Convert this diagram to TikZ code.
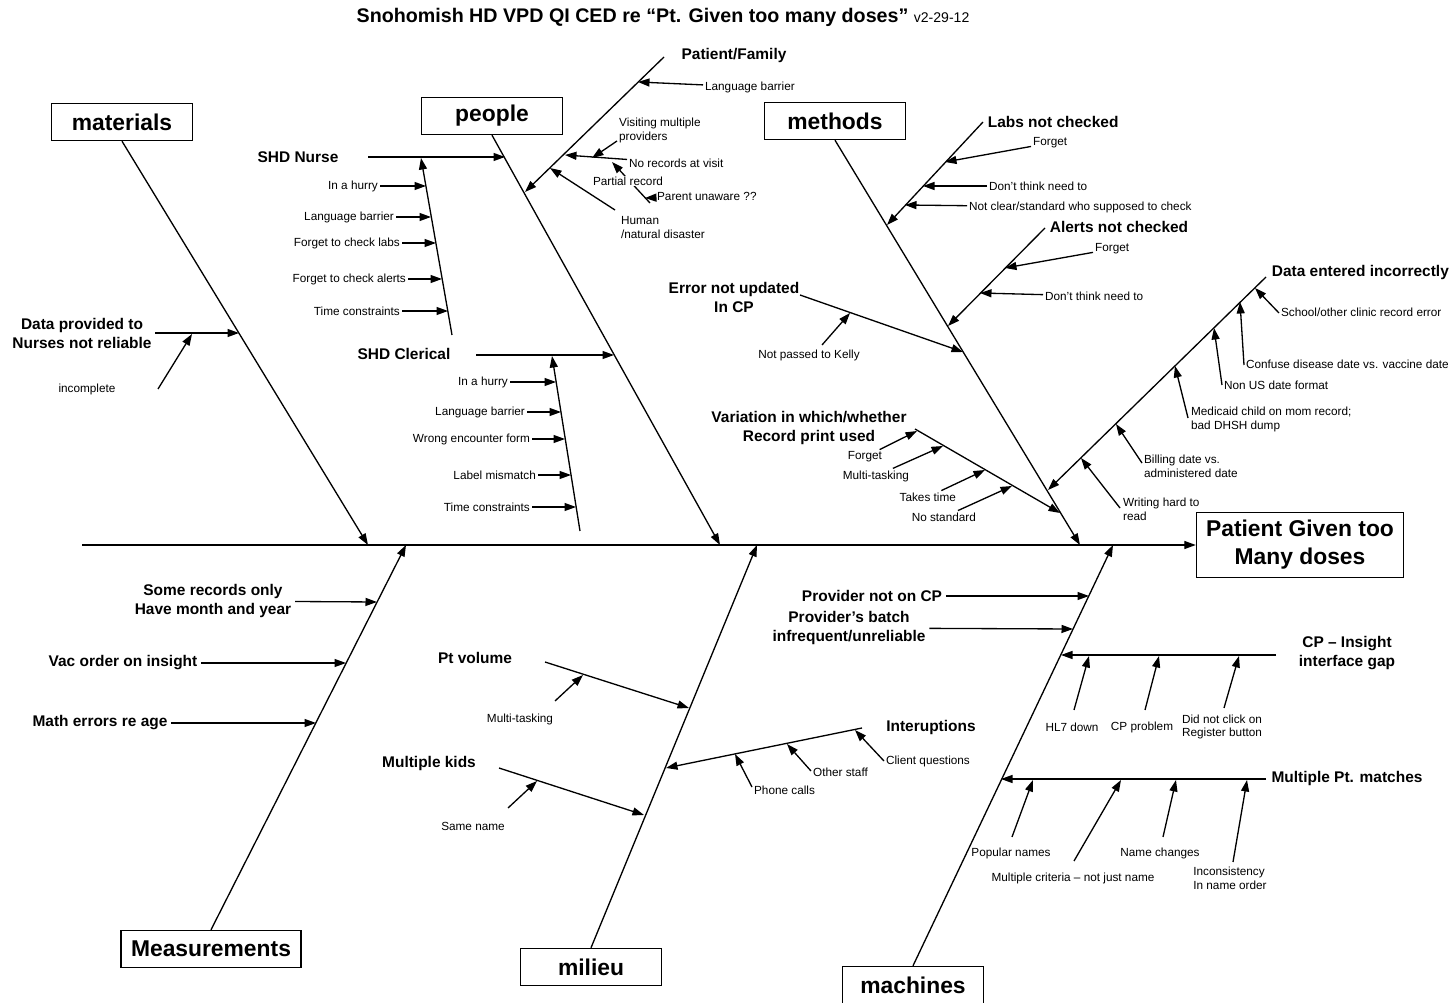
\documentclass[tikz,border=0pt]{standalone}
\usepackage{fontspec}
\setmainfont{Liberation Sans}
\usetikzlibrary{arrows.meta, calc}
\tikzset{
    my-cat-box/.style={
        draw, line width=0.8pt, minimum width=2.82cm, minimum height=0.74cm, inner sep=0pt,
        font=\fontsize{13}{15}\selectfont\bfseries
    },
    my-effect-box/.style={
        draw, line width=0.8pt, minimum width=4.14cm, minimum height=1.3cm, inner sep=0pt,
        align=center, font=\fontsize{13}{16}\selectfont\bfseries
    },
    my-cause/.style={
        align=center, inner sep=2pt, font=\fontsize{8.8}{10.8}\selectfont\bfseries
    },
    my-sub/.style={
        align=left, inner sep=1pt, font=\fontsize{6.7}{7.9}\selectfont
    },
    my-bone/.style={
        line width=0.75pt
    },
    my-arrow/.style={
        line width=0.75pt, -{Triangle[length=2.3mm, width=1.6mm]}
    },
}
\begin{document}
\begin{tikzpicture}[x=0.02cm, y=-0.02cm]
        \useasboundingbox (0,0) rectangle (1455,1003);

        % TITLE -----------------------------------------------------------------------------------
        \node[inner sep=0pt] (TITLE) at (663,17)
            {\fontsize{11.2}{13}\selectfont\bfseries Snohomish HD VPD QI CED re “Pt. Given too many doses” {\fontsize{8}{9}\selectfont\mdseries v2-29-12}};

        % SPINE AND EFFECT ------------------------------------------------------------------------
        \coordinate[]        (SPINESTART) at (82,545);
        \node[my-effect-box] (EFFECT)     at (1300,545) {Patient Given too\\Many doses};
        \draw[my-arrow] (SPINESTART) -- (EFFECT.west);

        % CATEGORY BOXES
        \node[my-cat-box] (MATERIALS)    at (122,122) {materials};
        \node[my-cat-box] (PEOPLE)       at (492,116) {people};
        \node[my-cat-box] (METHODS)      at (835,121) {methods};
        \node[my-cat-box, minimum width=3.6cm] (MEASUREMENTS) at (211,949) {Measurements};
        \node[my-cat-box] (MILIEU)       at (591,967) {milieu};
        \node[my-cat-box] (MACHINES)     at (913,985) {machines};

        % MAIN BONES
        \coordinate[] (MATERIALSEND)    at (368,545);
        \coordinate[] (PEOPLEEND)       at (720,545);
        \coordinate[] (METHODSEND)      at (1080,545);
        \coordinate[] (MEASUREMENTSEND) at (406,545);
        \coordinate[] (MILIEUEND)       at (757,545);
        \coordinate[] (MACHINESEND)     at (1113,545);
        \draw[my-arrow] (MATERIALS.south)    -- (MATERIALSEND);
        \draw[my-arrow] (PEOPLE.south)       -- (PEOPLEEND);
        \draw[my-arrow] (METHODS.south)      -- (METHODSEND);
        \draw[my-arrow] (MEASUREMENTS.north) -- (MEASUREMENTSEND);
        \draw[my-arrow] (MILIEU.north)       -- (MILIEUEND);
        \draw[my-arrow] (MACHINES.north)     -- (MACHINESEND);

        % MATERIALS -------------------------------------------------------------------------------
        \node[my-cause] (DATAPROV)   at (82,333) {Data provided to\\Nurses not reliable};
        \coordinate[]   (DATAPROVEND) at (239,333);
        \draw[my-arrow] (DATAPROV) -- (DATAPROVEND);

        \node[my-sub]   (INCOMPLETE)      at (87,389)  {incomplete};
        \coordinate[]   (INCOMPLETESTART) at (158,389);
        \coordinate[]   (INCOMPLETEEND)   at (192,334);
        \draw[my-arrow] (INCOMPLETESTART) -- (INCOMPLETEEND);

        % PEOPLE - SHD NURSE ----------------------------------------------------------------------
        \node[my-cause] (SHDNURSE)      at (298,157) {SHD Nurse};
        \coordinate[]   (SHDNURSESTART) at (368,157);
        \coordinate[]   (SHDNURSEEND)   at (505,157);
        \draw[my-arrow] (SHDNURSESTART) -- (SHDNURSEEND);
        \coordinate[]   (NURSEBONEBOT)  at (452,335);
        \coordinate[]   (NURSEBONETOP)  at (421,158);
        \draw[my-arrow] (NURSEBONEBOT) -- (NURSEBONETOP);

        \node[my-sub, anchor=east] (NURSE1) at (380,186) {In a hurry};
        \node[my-sub, anchor=east] (NURSE2) at (396,217) {Language barrier};
        \node[my-sub, anchor=east] (NURSE3) at (402,243) {Forget to check labs};
        \node[my-sub, anchor=east] (NURSE4) at (408,279) {Forget to check alerts};
        \node[my-sub, anchor=east] (NURSE5) at (402,311) {Time constraints};
        \coordinate[] (NURSE1END) at (426,186);
        \coordinate[] (NURSE2END) at (431,217);
        \coordinate[] (NURSE3END) at (436,243);
        \coordinate[] (NURSE4END) at (442,279);
        \coordinate[] (NURSE5END) at (448,311);
        \draw[my-arrow] (NURSE1) -- (NURSE1END);
        \draw[my-arrow] (NURSE2) -- (NURSE2END);
        \draw[my-arrow] (NURSE3) -- (NURSE3END);
        \draw[my-arrow] (NURSE4) -- (NURSE4END);
        \draw[my-arrow] (NURSE5) -- (NURSE5END);

        % PEOPLE - SHD CLERICAL -------------------------------------------------------------------
        \node[my-cause] (SHDCLERICAL)      at (404,354) {SHD Clerical};
        \coordinate[]   (SHDCLERICALSTART) at (476,355);
        \coordinate[]   (SHDCLERICALEND)   at (614,355);
        \draw[my-arrow] (SHDCLERICALSTART) -- (SHDCLERICALEND);
        \coordinate[]   (CLERICALBONEBOT)  at (580,531);
        \coordinate[]   (CLERICALBONETOP)  at (552,356);
        \draw[my-arrow] (CLERICALBONEBOT) -- (CLERICALBONETOP);

        \node[my-sub, anchor=east] (CLERICAL1) at (510,382) {In a hurry};
        \node[my-sub, anchor=east] (CLERICAL2) at (527,412) {Language barrier};
        \node[my-sub, anchor=east] (CLERICAL3) at (532,439) {Wrong encounter form};
        \node[my-sub, anchor=east] (CLERICAL4) at (538,475) {Label mismatch};
        \node[my-sub, anchor=east] (CLERICAL5) at (532,507) {Time constraints};
        \coordinate[] (CLERICAL1END) at (556,382);
        \coordinate[] (CLERICAL2END) at (561,412);
        \coordinate[] (CLERICAL3END) at (565,439);
        \coordinate[] (CLERICAL4END) at (571,475);
        \coordinate[] (CLERICAL5END) at (576,507);
        \draw[my-arrow] (CLERICAL1) -- (CLERICAL1END);
        \draw[my-arrow] (CLERICAL2) -- (CLERICAL2END);
        \draw[my-arrow] (CLERICAL3) -- (CLERICAL3END);
        \draw[my-arrow] (CLERICAL4) -- (CLERICAL4END);
        \draw[my-arrow] (CLERICAL5) -- (CLERICAL5END);

        % PEOPLE - PATIENT/FAMILY -----------------------------------------------------------------
        \node[my-cause] (PATFAM)    at (734,56) {Patient/Family};
        \coordinate[]   (PATFAMTOP) at (664,57);
        \coordinate[]   (PATFAMEND) at (525,192);
        \draw[my-arrow] (PATFAMTOP) -- (PATFAMEND);

        \node[my-sub, anchor=west] (PFLANG)    at (703,87) {Language barrier};
        \coordinate[]              (PFLANGEND) at (638,82);
        \draw[my-arrow] (PFLANG) -- (PFLANGEND);

        \node[my-sub, anchor=north west] (VISITING)      at (617,116) {Visiting multiple\\providers};
        \coordinate[]                    (VISITINGSTART) at (617,141);
        \coordinate[]                    (VISITINGEND)   at (592,158);
        \draw[my-arrow] (VISITINGSTART) -- (VISITINGEND);

        \node[my-sub, anchor=west] (NORECORDS)    at (627,163) {No records at visit};
        \coordinate[]              (NORECORDSEND) at (565,155);
        \draw[my-arrow] (NORECORDS) -- (NORECORDSEND);

        \coordinate[]   (PARTIALSTART) at (650,203);
        \coordinate[]   (PARTIALEND)   at (612,162);
        \draw[my-arrow] (PARTIALSTART) -- (PARTIALEND);
        \node[my-sub, fill=white, inner sep=0.5pt] (PARTIAL) at (628,181) {Partial record};

        \node[my-sub, anchor=west] (PARENT)    at (655,196) {Parent unaware ??};
        \coordinate[]              (PARENTEND) at (645,198);
        \draw[my-arrow] (PARENT) -- (PARENTEND);

        \node[my-sub, anchor=north west] (HUMAN)      at (619,214) {Human\\/natural disaster};
        \coordinate[]                    (HUMANSTART) at (615,210);
        \coordinate[]                    (HUMANEND)   at (550,168);
        \draw[my-arrow] (HUMANSTART) -- (HUMANEND);

        % METHODS - LABS NOT CHECKED --------------------------------------------------------------
        \node[my-cause, anchor=west] (LABS)      at (984,122) {Labs not checked};
        \coordinate[]                (LABSTOP)   at (983,122);
        \coordinate[]                (LABSEND)   at (887,225);
        \draw[my-arrow] (LABSTOP) -- (LABSEND);

        \node[my-sub, anchor=west] (LABS1) at (1031,143) {Forget};
        \node[my-sub, anchor=west] (LABS2) at (987,186)  {Don't think need to};
        \node[my-sub, anchor=west] (LABS3) at (967,207)  {Not clear/standard who supposed to check};
        \coordinate[] (LABS1END) at (945,162);
        \coordinate[] (LABS2END) at (923,186);
        \coordinate[] (LABS3END) at (905,205);
        \draw[my-arrow] (LABS1) -- (LABS1END);
        \draw[my-arrow] (LABS2) -- (LABS2END);
        \draw[my-arrow] (LABS3) -- (LABS3END);

        % METHODS - ALERTS NOT CHECKED ------------------------------------------------------------
        \node[my-cause, anchor=west] (ALERTS)    at (1046,227) {Alerts not checked};
        \coordinate[]                (ALERTSTOP) at (1045,228);
        \coordinate[]                (ALERTSEND) at (948,326);
        \draw[my-arrow] (ALERTSTOP) -- (ALERTSEND);

        \node[my-sub, anchor=west] (ALERTS1) at (1093,249) {Forget};
        \node[my-sub, anchor=west] (ALERTS2) at (1043,296) {Don't think need to};
        \coordinate[] (ALERTS1END) at (1005,268);
        \coordinate[] (ALERTS2END) at (980,293);
        \draw[my-arrow] (ALERTS1) -- (ALERTS1END);
        \draw[my-arrow] (ALERTS2) -- (ALERTS2END);

        % METHODS - ERROR NOT UPDATED -------------------------------------------------------------
        \node[my-cause] (ERROR)      at (734,297) {Error not updated\\In CP};
        \coordinate[]   (ERRORSTART) at (800,295);
        \coordinate[]   (ERROREND)   at (963,352);
        \draw[my-arrow] (ERRORSTART) -- (ERROREND);

        \node[my-sub]   (KELLY)      at (809,355) {Not passed to Kelly};
        \coordinate[]   (KELLYSTART) at (822,345);
        \coordinate[]   (KELLYEND)   at (850,313);
        \draw[my-arrow] (KELLYSTART) -- (KELLYEND);

        % METHODS - VARIATION IN RECORD PRINT -----------------------------------------------------
        \node[my-cause] (VARIATION)      at (809,428) {Variation in which/whether\\Record print used};
        \coordinate[]   (VARIATIONSTART) at (915,429);
        \coordinate[]   (VARIATIONEND)   at (1060,513);
        \draw[my-arrow] (VARIATIONSTART) -- (VARIATIONEND);

        \node[my-sub, anchor=east] (VARIATION1) at (884,457) {Forget};
        \node[my-sub, anchor=east] (VARIATION2) at (911,476) {Multi-tasking};
        \node[my-sub, anchor=east] (VARIATION3) at (958,497) {Takes time};
        \node[my-sub, anchor=east] (VARIATION4) at (978,517) {No standard};
        \coordinate[] (VARIATION1END) at (917,431);
        \coordinate[] (VARIATION2END) at (943,446);
        \coordinate[] (VARIATION3END) at (985,470);
        \coordinate[] (VARIATION4END) at (1012,486);
        \draw[my-arrow] (VARIATION1) -- (VARIATION1END);
        \draw[my-arrow] (VARIATION2) -- (VARIATION2END);
        \draw[my-arrow] (VARIATION3) -- (VARIATION3END);
        \draw[my-arrow] (VARIATION4) -- (VARIATION4END);

        % METHODS - DATA ENTERED INCORRECTLY ------------------------------------------------------
        \node[my-cause, anchor=west] (DATAENTERED)    at (1268,273) {Data entered incorrectly};
        \coordinate[]                (DATAENTEREDTOP) at (1266,277);
        \coordinate[]                (DATAENTEREDEND) at (1048,490);
        \draw[my-arrow] (DATAENTEREDTOP) -- (DATAENTEREDEND);

        \node[my-sub, anchor=west]       (DATA1) at (1279,312) {School/other clinic record error};
        \node[my-sub, anchor=west]       (DATA2) at (1244,364) {Confuse disease date vs. vaccine date};
        \node[my-sub, anchor=west]       (DATA3) at (1222,385) {Non US date format};
        \node[my-sub, anchor=north west] (DATA4) at (1189,405) {Medicaid child on mom record;\\ bad DHSH dump};
        \node[my-sub, anchor=north west] (DATA5) at (1142,453) {Billing date vs.\\ administered date};
        \node[my-sub, anchor=north west] (DATA6) at (1121,496) {Writing hard to\\read};
        \coordinate[] (DATA1START) at (1279,313);
        \coordinate[] (DATA2START) at (1244,365);
        \coordinate[] (DATA3START) at (1222,385);
        \coordinate[] (DATA4START) at (1188,418);
        \coordinate[] (DATA5START) at (1142,463);
        \coordinate[] (DATA6START) at (1120,508);
        \coordinate[] (DATA1END) at (1255,288);
        \coordinate[] (DATA2END) at (1240,302);
        \coordinate[] (DATA3END) at (1214,328);
        \coordinate[] (DATA4END) at (1175,366);
        \coordinate[] (DATA5END) at (1116,424);
        \coordinate[] (DATA6END) at (1081,458);
        \draw[my-arrow] (DATA1START) -- (DATA1END);
        \draw[my-arrow] (DATA2START) -- (DATA2END);
        \draw[my-arrow] (DATA3START) -- (DATA3END);
        \draw[my-arrow] (DATA4START) -- (DATA4END);
        \draw[my-arrow] (DATA5START) -- (DATA5END);
        \draw[my-arrow] (DATA6START) -- (DATA6END);

        % MEASUREMENTS ----------------------------------------------------------------------------
        \node[my-cause] (SOMERECORDS) at (213,601) {Some records only\\Have month and year};
        \node[my-cause] (VACORDER)    at (123,663) {Vac order on insight};
        \node[my-cause] (MATHERRORS)  at (100,723) {Math errors re age};
        \coordinate[] (SOMERECORDSEND) at (377,602);
        \coordinate[] (VACORDEREND)    at (346,663);
        \coordinate[] (MATHERRORSEND)  at (316,723);
        \draw[my-arrow] (SOMERECORDS) -- (SOMERECORDSEND);
        \draw[my-arrow] (VACORDER)    -- (VACORDEREND);
        \draw[my-arrow] (MATHERRORS)  -- (MATHERRORSEND);

        % MILIEU ----------------------------------------------------------------------------------
        \node[my-cause] (PTVOLUME)      at (475,658) {Pt volume};
        \coordinate[]   (PTVOLUMESTART) at (545,662);
        \coordinate[]   (PTVOLUMEEND)   at (689,708);
        \draw[my-arrow] (PTVOLUMESTART) -- (PTVOLUMEEND);
        \node[my-sub]   (MULTITASK)      at (520,719) {Multi-tasking};
        \coordinate[]   (MULTITASKSTART) at (555,701);
        \coordinate[]   (MULTITASKEND)   at (583,675);
        \draw[my-arrow] (MULTITASKSTART) -- (MULTITASKEND);

        \node[my-cause] (MULTIKIDS)      at (429,764) {Multiple kids};
        \coordinate[]   (MULTIKIDSSTART) at (499,768);
        \coordinate[]   (MULTIKIDSEND)   at (644,815);
        \draw[my-arrow] (MULTIKIDSSTART) -- (MULTIKIDSEND);
        \node[my-sub]   (SAMENAME)      at (473,826) {Same name};
        \coordinate[]   (SAMENAMESTART) at (508,808);
        \coordinate[]   (SAMENAMEEND)   at (537,781);
        \draw[my-arrow] (SAMENAMESTART) -- (SAMENAMEEND);

        \node[my-cause] (INTERUPT)      at (931,728) {Interuptions};
        \coordinate[]   (INTERUPTSTART) at (862,728);
        \coordinate[]   (INTERUPTEND)   at (666,768);
        \draw[my-arrow] (INTERUPTSTART) -- (INTERUPTEND);
        \node[my-sub, anchor=west] (INTERUPT1) at (884,761) {Client questions};
        \node[my-sub, anchor=west] (INTERUPT2) at (811,772) {Other staff};
        \node[my-sub, anchor=west] (INTERUPT3) at (752,790) {Phone calls};
        \coordinate[] (INTERUPT1START) at (884,761);
        \coordinate[] (INTERUPT2START) at (811,771);
        \coordinate[] (INTERUPT3START) at (752,787);
        \coordinate[] (INTERUPT1END) at (855,730);
        \coordinate[] (INTERUPT2END) at (787,744);
        \coordinate[] (INTERUPT3END) at (735,754);
        \draw[my-arrow] (INTERUPT1START) -- (INTERUPT1END);
        \draw[my-arrow] (INTERUPT2START) -- (INTERUPT2END);
        \draw[my-arrow] (INTERUPT3START) -- (INTERUPT3END);

        % MACHINES --------------------------------------------------------------------------------
        \node[my-cause] (NOTONCP)    at (872,596) {Provider not on CP};
        \node[my-cause] (BATCH)      at (849,628) {Provider's batch\\infrequent/unreliable};
        \coordinate[]   (NOTONCPEND) at (1089,596);
        \coordinate[]   (BATCHEND)   at (1073,629);
        \draw[my-arrow] (NOTONCP) -- (NOTONCPEND);
        \draw[my-arrow] (BATCH)   -- (BATCHEND);

        % CP - INSIGHT INTERFACE GAP
        \node[my-cause] (CPGAP)      at (1347,653) {CP -- Insight\\interface gap};
        \coordinate[]   (CPGAPSTART) at (1276,655);
        \coordinate[]   (CPGAPEND)   at (1061,655);
        \draw[my-arrow] (CPGAPSTART) -- (CPGAPEND);
        \node[my-sub, align=center] (CPGAP1) at (1072,727) {HL7 down};
        \node[my-sub, align=center] (CPGAP2) at (1142,727) {CP problem};
        \node[my-sub, align=left]   (CPGAP3) at (1222,727) {Did not click on\\Register button};
        \coordinate[] (CPGAP1START) at (1074,710);
        \coordinate[] (CPGAP2START) at (1145,710);
        \coordinate[] (CPGAP3START) at (1224,708);
        \coordinate[] (CPGAP1END) at (1089,656);
        \coordinate[] (CPGAP2END) at (1159,656);
        \coordinate[] (CPGAP3END) at (1239,656);
        \draw[my-arrow] (CPGAP1START) -- (CPGAP1END);
        \draw[my-arrow] (CPGAP2START) -- (CPGAP2END);
        \draw[my-arrow] (CPGAP3START) -- (CPGAP3END);

        % MULTIPLE PT. MATCHES
        \node[my-cause] (MATCHES)      at (1347,779) {Multiple Pt. matches};
        \coordinate[]   (MATCHESSTART) at (1266,779);
        \coordinate[]   (MATCHESEND)   at (1001,779);
        \draw[my-arrow] (MATCHESSTART) -- (MATCHESEND);
        \node[my-sub]             (MATCHES1) at (1011,853) {Popular names};
        \node[my-sub]             (MATCHES2) at (1073,878) {Multiple criteria -- not just name};
        \node[my-sub]             (MATCHES3) at (1160,853) {Name changes};
        \node[my-sub, align=left] (MATCHES4) at (1230,878) {Inconsistency\\In name order};
        \coordinate[] (MATCHES1START) at (1012,837);
        \coordinate[] (MATCHES2START) at (1074,861);
        \coordinate[] (MATCHES3START) at (1163,837);
        \coordinate[] (MATCHES4START) at (1233,862);
        \coordinate[] (MATCHES1END) at (1033,780);
        \coordinate[] (MATCHES2END) at (1121,780);
        \coordinate[] (MATCHES3END) at (1176,780);
        \coordinate[] (MATCHES4END) at (1247,780);
        \draw[my-arrow] (MATCHES1START) -- (MATCHES1END);
        \draw[my-arrow] (MATCHES2START) -- (MATCHES2END);
        \draw[my-arrow] (MATCHES3START) -- (MATCHES3END);
        \draw[my-arrow] (MATCHES4START) -- (MATCHES4END);

    \end{tikzpicture}
\end{document}
